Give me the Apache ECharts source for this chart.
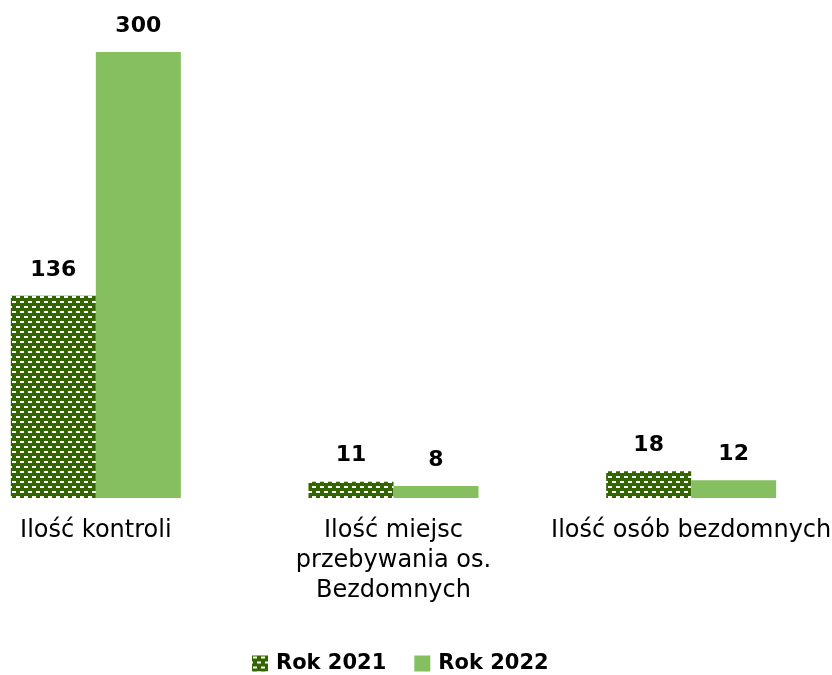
<!DOCTYPE html>
<html>
<head>
<meta charset="utf-8">
<script src="https://cdn.jsdelivr.net/npm/echarts@6/dist/echarts.min.js"></script>
<style>
  html, body { margin: 0; padding: 0; background: #ffffff; overflow: hidden; }
  body { width: 832px; height: 675px; position: relative; }
  /* wykres zaczyna się poza lewą krawędzią, tak jak w oryginale */
  #chart { position: absolute; left: -53px; top: 0; width: 893px; height: 675px; }
</style>
</head>
<body>
<div id="chart"></div>
<script>
// dane z wykresu
const categories = ["Ilość kontroli", "Ilość miejsc\nprzebywania os.\nBezdomnych", "Ilość osób bezdomnych"];
const seriesNames = ["Rok 2021", "Rok 2022"];
const values2021 = [136, 11, 18];
const values2022 = [300, 8, 12];

// wzór dla 2021: ciemnozielone tło, białe kreski w cegiełkę
function makePattern() {
  const c = document.createElement("canvas");
  c.width = 8;
  c.height = 10;
  const ctx = c.getContext("2d");
  ctx.fillStyle = "#336600";
  ctx.fillRect(0, 0, 8, 10);
  ctx.fillStyle = "#ffffff";
  ctx.fillRect(1, 1, 4, 2);
  ctx.fillRect(5, 6, 3, 2);
  ctx.fillRect(0, 6, 1, 2);
  return c;
}
const pattern = { image: makePattern(), repeat: "repeat" };

const chart = echarts.init(document.getElementById("chart"));

const labelStyle = {
  show: true,
  position: "top",
  distance: 15,
  fontFamily: "DejaVu Sans",
  fontWeight: "bold",
  fontSize: 22,
  color: "#000000",
};

chart.setOption({
  animation: false,
  legend: {
    top: 648,
    left: 300,
    itemWidth: 16,
    itemHeight: 16,
    itemGap: 28,
    icon: "rect",
    textStyle: { fontFamily: "DejaVu Sans", fontWeight: "bold", fontSize: 21, color: "#000000", padding: [0, 0, 0, 3] },
    data: seriesNames,
  },
  grid: {
    left: 0,
    right: 0,
    top: 52,
    bottom: 177,
    containLabel: false,
  },
  xAxis: {
    type: "category",
    data: categories,
    axisLine: { show: false },
    axisTick: { show: false },
    axisLabel: {
      margin: 18,
      interval: 0,
      fontFamily: "DejaVu Sans",
      fontSize: 24,
      lineHeight: 30,
      color: "#000000",
    },
  },
  yAxis: {
    type: "value",
    min: 0,
    max: 300,
    show: false,
    splitLine: { show: false },
  },
  series: [
    {
      name: seriesNames[0],
      type: "bar",
      data: values2021,
      barWidth: 85,
      barGap: "0%",
      itemStyle: { color: pattern },
      label: labelStyle,
    },
    {
      name: seriesNames[1],
      type: "bar",
      data: values2022,
      barWidth: 85,
      itemStyle: { color: "#86bf60" },
      label: labelStyle,
    },
  ],
});
</script>
</body>
</html>
